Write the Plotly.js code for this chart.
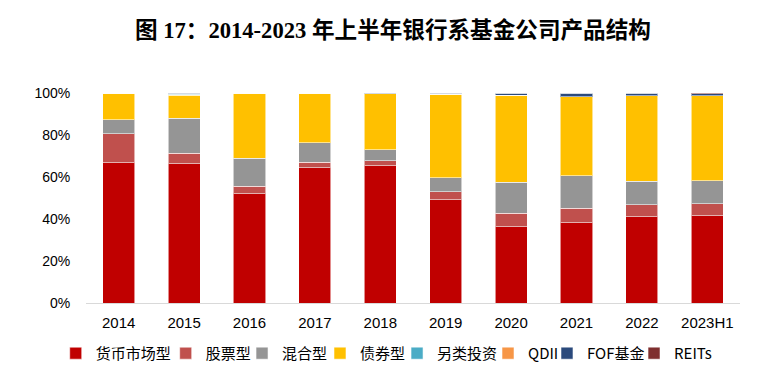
<!DOCTYPE html>
<html>
<head>
<meta charset="utf-8">
<script src="https://cdn.plot.ly/plotly-3.0.1.min.js"></script>
<style>
html,body{margin:0;padding:0;background:#fff;}
#chart{width:775px;height:374px;}
</style>
</head>
<body>
<div id="chart"></div>
<script>
const categories = ['2014','2015','2016','2017','2018','2019','2020','2021','2022','2023H1'];
const moneyMarket = [66.9, 66.4, 52.1, 64.5, 65.4, 49.2, 36.4, 38.1, 41.1, 41.6];
const equity      = [13.8, 5.0, 3.6, 2.5, 2.4, 3.7, 6.3, 7.0, 5.8, 5.7];
const mixed       = [6.6, 16.6, 13.3, 9.2, 5.1, 6.8, 14.9, 15.6, 11.1, 11.0];
const bond        = [12.7, 11.0, 31.0, 23.6, 26.8, 39.8, 41.3, 37.4, 40.8, 40.5];
const alternative = [0, 0.4, 0, 0, 0, 0, 0, 0, 0, 0];
const qdii        = [0, 0.2, 0, 0.1, 0, 0, 0, 0, 0, 0];
const fof         = [0, 0.4, 0, 0.1, 0.3, 0.5, 1.1, 1.9, 1.0, 0.9];
const reits       = [0, 0, 0, 0, 0, 0, 0, 0, 0.2, 0.3];

const seriesNames = ['货币市场型','股票型','混合型','债券型','另类投资','QDII','FOF基金','REITs'];
const seriesValues = [moneyMarket, equity, mixed, bond, alternative, qdii, fof, reits];
const seriesColors = ['#C00000','#C0504D','#959595','#FFC000','#4BACC6','#F79646','#2B4A7C','#7F2F2F'];

// horizontal position (container fraction) of each legend entry
const legendX = [0.0719, 0.2138, 0.3123, 0.4129, 0.5123, 0.6297, 0.7058, 0.8181];

const traces = seriesNames.map((name, i) => ({
  type: 'bar',
  name: name,
  x: categories,
  y: seriesValues[i],
  legend: i === 0 ? 'legend' : 'legend' + (i + 1),
  marker: {color: seriesColors[i], line: {color: 'rgba(255,255,255,0.55)', width: 1}},
  hoverinfo: 'x+y+name'
}));

const layout = {
  width: 775, height: 374,
  margin: {l: 86, r: 35, t: 93, b: 71, pad: 0},
  paper_bgcolor: '#ffffff', plot_bgcolor: '#ffffff',
  barmode: 'stack',
  bargap: 0.51,
  title: {
    text: '<b>图 17：2014-2023 年上半年银行系基金公司产品结构</b>',
    font: {family: '"Liberation Serif", "Noto Sans CJK SC", serif', size: 22.6, color: '#000'},
    x: 0.507, xanchor: 'center', y: 0.92, yanchor: 'middle', yref: 'container'
  },
  xaxis: {
    type: 'category',
    showline: true, linecolor: '#D9D9D9', linewidth: 1,
    showgrid: false, zeroline: false,
    ticks: 'outside', ticklen: 6, tickcolor: 'rgba(0,0,0,0)',
    tickfont: {family: '"Liberation Sans", Arial, sans-serif', size: 15, color: '#000'}
  },
  yaxis: {
    range: [0, 100], dtick: 20, ticksuffix: '%',
    showline: false, showgrid: false, zeroline: false,
    ticks: 'outside', ticklen: 12, tickcolor: 'rgba(0,0,0,0)',
    tickfont: {family: '"Liberation Sans", Arial, sans-serif', size: 14, color: '#000'}
  },
  showlegend: true
};

seriesNames.forEach((name, i) => {
  const key = i === 0 ? 'legend' : 'legend' + (i + 1);
  layout[key] = {
    orientation: 'h', x: legendX[i], xanchor: 'left', xref: 'container',
    y: 0.055, yanchor: 'middle', yref: 'container',
    font: {family: '"Noto Sans CJK SC", sans-serif', size: 15, color: '#000'},
    itemclick: false, itemwidth: 30, bgcolor: 'rgba(0,0,0,0)'
  };
});

Plotly.newPlot('chart', traces, layout, {displayModeBar: false, staticPlot: true});
</script>
</body>
</html>
